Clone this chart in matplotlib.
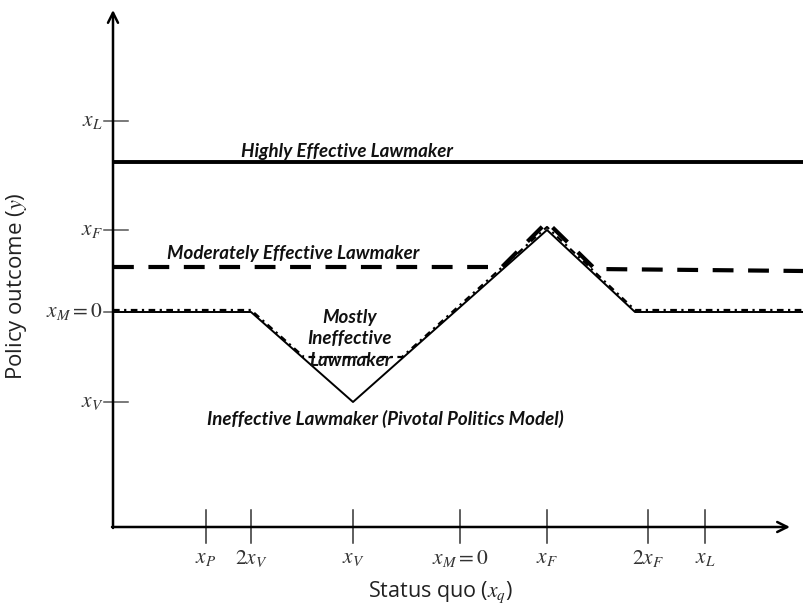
import matplotlib
matplotlib.use("Agg")
import matplotlib.pyplot as plt

plt.rcParams['mathtext.fontset'] = 'stix'

# Tick positions (abstract units, x_M = 0)
x_tick_labels = [r'$x_P$', r'$2x_V$', r'$x_V$', r'$x_M=0$', r'$x_F$', r'$2x_F$', r'$x_L$']
x_tick_vals = [-2.54, -2.09, -1.07, 0.0, 0.87, 1.88, 2.45]
y_tick_labels = [r'$x_L$', r'$x_F$', r'$x_M=0$', r'$x_V$']
y_tick_vals = [1.91, 0.82, 0.0, -0.90]

# Policy outcome curves
highly_x = [-3.47, 3.44]
highly_y = [1.50, 1.50]
moderate_x = [-3.47, 0.42, 0.87, 1.35, 3.44]
moderate_y = [0.45, 0.45, 0.90, 0.43, 0.41]
mostly_x = [-3.47, -2.09, -1.56, -0.58, 0.87, 1.75, 3.44]
mostly_y = [0.02, 0.02, -0.45, -0.45, 0.85, 0.02, 0.02]
ineff_x = [-3.47, -2.09, -1.07, 0.87, 1.75, 3.44]
ineff_y = [0.0, 0.0, -0.90, 0.82, 0.0, 0.0]

x0, y0 = -3.47, -2.15  # axis origin

fig = plt.figure(figsize=(8.04, 6.09), dpi=100)
ax = fig.add_axes([0, 0, 1, 1])
ax.set_xlim(-4.60, 3.44)
ax.set_ylim(-2.97, 3.12)
ax.axis('off')

# axes with arrows
ax.annotate('', xy=(3.30, y0), xytext=(x0 - 0.01, y0),
            arrowprops=dict(arrowstyle='->', lw=1.8, color='black', mutation_scale=18,
                            shrinkA=0, shrinkB=0))
ax.annotate('', xy=(x0, 3.02), xytext=(x0, y0 - 0.01),
            arrowprops=dict(arrowstyle='->', lw=1.8, color='black', mutation_scale=18,
                            shrinkA=0, shrinkB=0))

# ticks
for v, lab in zip(x_tick_vals, x_tick_labels):
    ax.plot([v, v], [y0 - 0.16, y0 + 0.17], color='#333333', lw=1.1)
    ax.text(v, y0 - 0.21, lab, ha='center', va='top', fontsize=15.5, color='#333333')
for v, lab in zip(y_tick_vals, y_tick_labels):
    ax.plot([x0 - 0.09, x0 + 0.15], [v, v], color='#555555', lw=1.1)
    ax.text(x0 - 0.10, v, lab, ha='right', va='center', fontsize=15.5, color='#333333')

# curves
ax.plot(highly_x, highly_y, color='black', lw=2.8, solid_capstyle='butt')
ax.plot(moderate_x, moderate_y, color='black', lw=3.0, dashes=(5, 3.5))
ax.plot(ineff_x, ineff_y, color='black', lw=1.4)
ax.plot(mostly_x, mostly_y, color='black', lw=1.6, linestyle='-.', dashes=(3, 2, 1, 2))

# annotations
tfont = dict(family='Lato', fontsize=13.5, fontweight='bold', fontstyle='italic', color='#111111')
ax.text(-1.13, 1.60, 'Highly Effective Lawmaker', ha='center', va='center', **tfont)
ax.text(-1.67, 0.59, 'Moderately Effective Lawmaker', ha='center', va='center', **tfont)
ax.text(-1.10, -0.27, 'Mostly\nIneffective\nLawmaker', ha='center', va='center',
        linespacing=1.3, **tfont)
ax.text(-0.75, -1.07, 'Ineffective Lawmaker (Pivotal Politics Model)', ha='center',
        va='center', **tfont)

# axis titles
ax.text(-4.43, 0.26, r'Policy outcome ($y$)', rotation=90, ha='center', va='center',
        fontsize=16, family='Open Sans', color='#222222')
ax.text(-0.20, -2.80, r'Status quo ($x_q$)', ha='center', va='center',
        fontsize=15.5, family='Open Sans', color='#222222')

fig.savefig('out.png', dpi=100)
